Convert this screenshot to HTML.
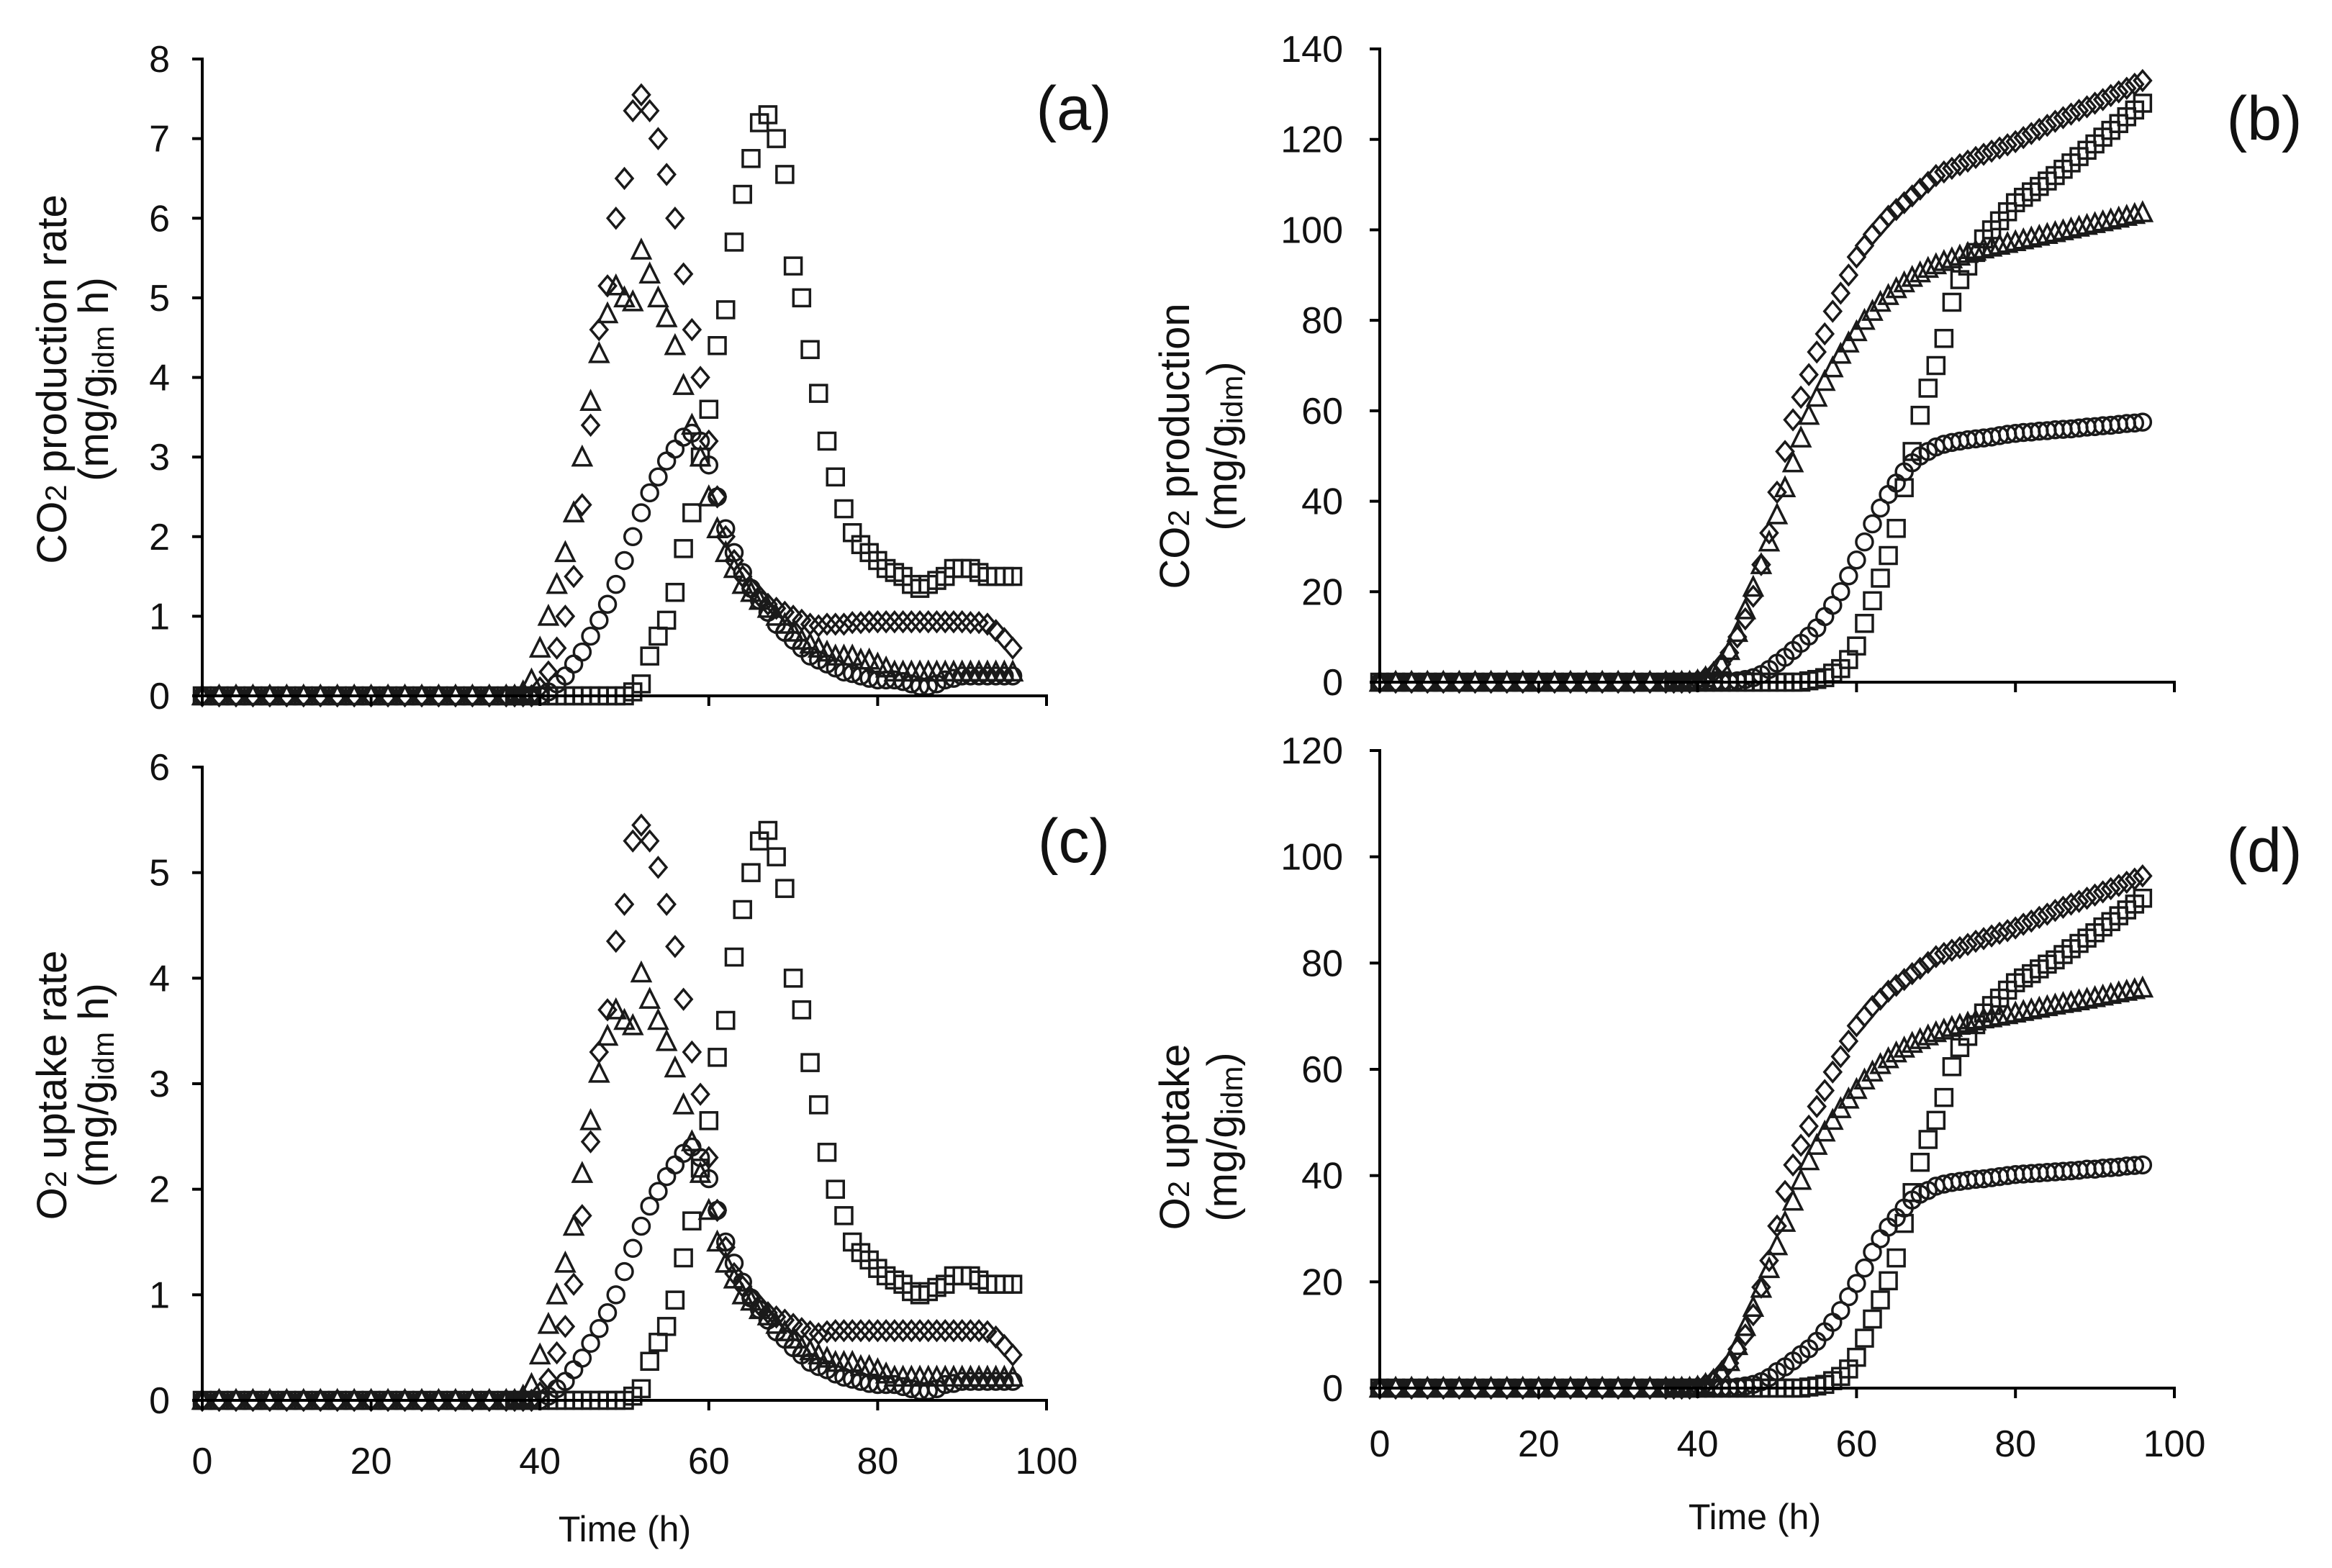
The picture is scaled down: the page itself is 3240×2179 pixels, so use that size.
<!DOCTYPE html>
<html><head><meta charset="utf-8"><style>
html,body{margin:0;padding:0;background:#fff}
svg{display:block}
text{font-family:"Liberation Sans",Arial,sans-serif;fill:#111}
</style></head><body>
<svg id="fig" width="3240" height="2179" viewBox="0 0 3240 2179" xmlns="http://www.w3.org/2000/svg">
<g id="texts">
<text x="1492" y="180" font-size="86" text-anchor="middle">(a)</text>
<text x="3146" y="194" font-size="86" text-anchor="middle">(b)</text>
<text x="1492" y="1198" font-size="86" text-anchor="middle">(c)</text>
<text x="3146" y="1211" font-size="86" text-anchor="middle">(d)</text>

<text transform="translate(92,527) rotate(-90)" font-size="58" text-anchor="middle">CO<tspan font-size="42">2</tspan> production rate</text>
<text transform="translate(150,527) rotate(-90)" font-size="58" text-anchor="middle">(mg/g<tspan font-size="42" dy="8">idm</tspan><tspan dy="-8"> h)</tspan></text>
<text transform="translate(92,1508) rotate(-90)" font-size="58" text-anchor="middle">O<tspan font-size="42">2</tspan> uptake rate</text>
<text transform="translate(150,1508) rotate(-90)" font-size="58" text-anchor="middle">(mg/g<tspan font-size="42" dy="8">idm</tspan><tspan dy="-8"> h)</tspan></text>
<text transform="translate(1652,620) rotate(-90)" font-size="58" text-anchor="middle">CO<tspan font-size="42">2</tspan> production</text>
<text transform="translate(1718,620) rotate(-90)" font-size="58" text-anchor="middle">(mg/g<tspan font-size="42" dy="8">idm</tspan><tspan dy="-8">)</tspan></text>
<text transform="translate(1652,1580) rotate(-90)" font-size="58" text-anchor="middle">O<tspan font-size="42">2</tspan> uptake</text>
<text transform="translate(1718,1580) rotate(-90)" font-size="58" text-anchor="middle">(mg/g<tspan font-size="42" dy="8">idm</tspan><tspan dy="-8">)</tspan></text>

<text x="868" y="2142" font-size="50" text-anchor="middle">Time (h)</text>
<text x="2438" y="2125" font-size="50" text-anchor="middle">Time (h)</text>
</g>
</svg>
<script>
// shared time points (h)
const T = [0,2,4,6,8,10,12,14,16,18,20,22,24,26,28,30,32,34,36,37,38,39,40,41,42,43,44,45,46,47,48,49,50,51,52,53,54,55,56,57,58,59,60,61,62,63,64,65,66,67,68,69,70,71,72,73,74,75,76,77,78,79,80,81,82,83,84,85,86,87,88,89,90,91,92,93,94,95,96];
const Z19 = [0,0,0,0,0,0,0,0,0,0,0,0,0,0,0,0,0,0,0];
const xTicks = [0,20,40,60,80,100];
const yTicksA = [0,1,2,3,4,5,6,7,8];
const yTicksB = [0,20,40,60,80,100,120,140];
const yTicksC = [0,1,2,3,4,5,6];
const yTicksD = [0,20,40,60,80,100,120];

// Panel (a) CO2 production rate, values for t=37..96
const aDiamond = [0,0,0,0.1,0.3,0.6,1.0,1.5,2.4,3.4,4.6,5.15,6.0,6.5,7.35,7.55,7.35,7.0,6.55,6.0,5.3,4.6,4.0,3.2,2.5,2.0,1.7,1.5,1.35,1.25,1.15,1.1,1.05,1.0,0.95,0.9,0.88,0.9,0.9,0.9,0.92,0.92,0.93,0.93,0.93,0.93,0.93,0.93,0.93,0.93,0.93,0.93,0.93,0.93,0.92,0.92,0.9,0.82,0.72,0.6];
const aTriangle = [0,0.05,0.2,0.6,1.0,1.4,1.8,2.3,3.0,3.7,4.3,4.8,5.15,5.0,4.95,5.6,5.3,5.0,4.75,4.4,3.9,3.4,3.0,2.5,2.1,1.8,1.6,1.4,1.3,1.2,1.1,1.0,0.9,0.8,0.7,0.65,0.6,0.55,0.5,0.5,0.5,0.45,0.45,0.4,0.35,0.3,0.3,0.3,0.3,0.3,0.3,0.3,0.3,0.3,0.3,0.3,0.3,0.3,0.3,0.3];
const aCircle = [0,0,0,0,0.05,0.15,0.25,0.4,0.55,0.75,0.95,1.15,1.4,1.7,2.0,2.3,2.55,2.75,2.95,3.1,3.25,3.3,3.2,2.9,2.5,2.1,1.8,1.55,1.35,1.2,1.05,0.9,0.8,0.7,0.6,0.5,0.45,0.4,0.35,0.3,0.28,0.25,0.22,0.2,0.2,0.2,0.18,0.15,0.12,0.12,0.15,0.2,0.22,0.25,0.25,0.25,0.25,0.25,0.25,0.25];
const aSquare = [0,0,0,0,0,0,0,0,0,0,0,0,0,0,0.05,0.15,0.5,0.75,0.95,1.3,1.85,2.3,3.0,3.6,4.4,4.85,5.7,6.3,6.75,7.2,7.3,7.0,6.55,5.4,5.0,4.35,3.8,3.2,2.75,2.35,2.05,1.9,1.8,1.7,1.6,1.55,1.5,1.4,1.35,1.4,1.45,1.5,1.6,1.6,1.6,1.55,1.5,1.5,1.5,1.5];

// Panel (b) cumulative CO2, t=37..96
const bDiamond = [0,0,0,0.3,1,2,4,6.5,10,14,19,26,33,42,51,58,63,68,73,77,82,86,90,94,96.5,99,101,103,104.5,106,107.5,109,110.5,112,112.8,113.6,114.4,115.2,116,116.7,117.4,118.1,118.8,119.5,120.4,121.3,122.2,123.1,124,124.8,125.6,126.4,127.2,128,128.8,129.7,130.5,131.3,132.2,133];
const bTriangle = [0,0,0,0.3,1,2,4,7,11,16,21,26,31,37,43,48.5,54,59,63,66.5,69.5,72.5,75,77.5,80,82,84,85.5,87,88.3,89.5,90.5,91.5,92.3,93,93.6,94.2,94.8,95.3,95.8,96.2,96.6,97,97.4,97.8,98.2,98.6,99,99.4,99.8,100.2,100.6,101,101.4,101.8,102.2,102.6,103,103.4,103.8];
const bCircle = [0,0,0,0,0,0,0,0,0.3,0.6,1,1.7,2.8,4.2,5.5,7,8.6,10.2,12,14.5,17,20,23.5,27,31,35,38.5,41.5,44,46.5,48.5,50,51,52,52.6,53,53.3,53.6,53.8,54,54.2,54.5,54.8,55,55.2,55.3,55.5,55.6,55.8,55.9,56,56.2,56.4,56.5,56.7,56.8,57,57.2,57.3,57.5];
const bSquare = [0,0,0,0,0,0,0,0,0,0,0,0,0,0,0,0,0,0.3,0.6,1,2,3,5,8,13,18,23,28,34,43,51,59,65,70,76,84,89,92,95,98,100,102,104,106,107.2,108.4,109.6,110.8,112,113.4,114.8,116.2,117.6,119,120.5,122,123.5,125,126.5,128];

// Panel (c) O2 uptake rate, t=37..96
const cDiamond = [0,0,0,0.07,0.2,0.45,0.7,1.1,1.75,2.45,3.3,3.7,4.35,4.7,5.3,5.45,5.3,5.05,4.7,4.3,3.8,3.3,2.9,2.3,1.8,1.45,1.2,1.08,0.97,0.9,0.83,0.79,0.76,0.72,0.68,0.65,0.63,0.65,0.66,0.66,0.66,0.66,0.66,0.66,0.66,0.66,0.66,0.66,0.66,0.66,0.66,0.66,0.66,0.66,0.66,0.66,0.65,0.6,0.52,0.43];
const cTriangle = [0,0.04,0.15,0.43,0.72,1.0,1.3,1.65,2.15,2.65,3.1,3.45,3.7,3.6,3.55,4.05,3.8,3.6,3.4,3.15,2.8,2.45,2.15,1.8,1.5,1.3,1.15,1.0,0.94,0.86,0.8,0.72,0.65,0.58,0.5,0.47,0.43,0.4,0.36,0.36,0.36,0.32,0.32,0.29,0.25,0.22,0.22,0.22,0.22,0.22,0.22,0.22,0.22,0.22,0.22,0.22,0.22,0.22,0.22,0.22];
const cCircle = [0,0,0,0,0.04,0.11,0.18,0.29,0.4,0.54,0.68,0.83,1.0,1.22,1.44,1.65,1.84,1.98,2.12,2.23,2.34,2.4,2.3,2.1,1.8,1.5,1.3,1.12,0.97,0.86,0.76,0.65,0.58,0.5,0.43,0.36,0.32,0.29,0.25,0.22,0.2,0.18,0.16,0.15,0.15,0.15,0.13,0.11,0.09,0.09,0.11,0.15,0.16,0.18,0.18,0.18,0.18,0.18,0.18,0.18];
const cSquare = [0,0,0,0,0,0,0,0,0,0,0,0,0,0,0.04,0.11,0.37,0.55,0.7,0.95,1.35,1.7,2.2,2.65,3.25,3.6,4.2,4.65,5.0,5.3,5.4,5.15,4.85,4.0,3.7,3.2,2.8,2.35,2.0,1.75,1.5,1.4,1.33,1.25,1.18,1.14,1.1,1.03,1.0,1.03,1.07,1.1,1.18,1.18,1.18,1.14,1.1,1.1,1.1,1.1];

// Panel (d) cumulative O2, t=37..96
const dDiamond = [0,0,0,0.2,0.7,1.5,2.9,4.7,7.3,10,13.8,19,24,30.5,37,42,45.7,49.3,53,56,59.5,62.4,65.3,68.2,70,71.8,73.2,74.7,75.8,76.9,78,79,80.1,81.2,81.8,82.4,82.9,83.5,84.1,84.6,85.1,85.6,86.1,86.6,87.3,87.9,88.6,89.2,89.9,90.5,91.1,91.6,92.2,92.8,93.4,94,94.6,95.2,95.8,96.4];
const dTriangle = [0,0,0,0.2,0.7,1.5,2.9,5,8,11.6,15.2,18.8,22.5,26.8,31.2,35.2,39.1,42.8,45.7,48.2,50.4,52.6,54.4,56.2,58,59.5,60.9,62,63.1,64,64.9,65.6,66.3,66.9,67.4,67.9,68.3,68.7,69.1,69.5,69.7,70,70.3,70.6,70.9,71.2,71.5,71.8,72.1,72.4,72.6,72.9,73.2,73.5,73.8,74.1,74.4,74.7,75,75.3];
const dCircle = [0,0,0,0,0,0,0,0,0.2,0.4,0.7,1.2,2,3.1,4,5.1,6.3,7.4,8.8,10.6,12.4,14.6,17.2,19.7,22.6,25.6,28.1,30.3,32.1,33.9,35.4,36.5,37.2,38,38.4,38.7,38.9,39.1,39.3,39.4,39.6,39.8,40,40.2,40.3,40.4,40.5,40.6,40.7,40.8,40.9,41,41.2,41.2,41.4,41.5,41.6,41.8,41.9,42];
const dSquare = [0,0,0,0,0,0,0,0,0,0,0,0,0,0,0,0,0,0.2,0.4,0.7,1.4,2.2,3.6,5.8,9.4,13,16.6,20.2,24.5,31,36.8,42.5,46.8,50.4,54.7,60.5,64.1,66.2,68.4,70.6,72,73.4,74.9,76.3,77.2,78,78.9,79.8,80.6,81.6,82.7,83.7,84.7,85.7,86.8,87.8,88.9,90,91.1,92.2];

const NS = 'http://www.w3.org/2000/svg';
const svg = document.getElementById('fig');
function mk(tag, attrs, parent){
  const e = document.createElementNS(NS, tag);
  for (const k in attrs) e.setAttribute(k, attrs[k]);
  (parent||svg).appendChild(e);
  return e;
}

function panel(id, px0, px1, py0, pyTop, yMax, yTicks, showXLabels, xLabY, yLabX, series){
  const g = mk('g', {});
  
  
  const sx = t => px0 + (px1 - px0) * t / 100;
  const sy = v => py0 - (py0 - pyTop) * v / yMax;
  const sw = 3.5, s = 11.5;
  series.forEach(ser => {
    const sg = mk('g', {fill:'none', stroke:'#1a1a1a', 'stroke-width':sw}, g);
    
    
    const vals = Z19.concat(ser.values);
    T.forEach((t, i) => {
      const x = sx(t), y = sy(vals[i]);
      let m;
      if (ser.shape === 'square') m = mk('rect', {x:x-s, y:y-s, width:2*s, height:2*s}, sg);
      else if (ser.shape === 'circle') m = mk('circle', {cx:x, cy:y, r:s}, sg);
      else if (ser.shape === 'diamond') m = mk('polygon', {points:`${x},${y-s-2} ${x+s},${y} ${x},${y+s+2} ${x-s},${y}`}, sg);
      else m = mk('polygon', {points:`${x},${y-s-2} ${x+s+1},${y+s} ${x-s-1},${y+s}`}, sg);
      
      
    });
  });
  const ax = mk('g', {stroke:'#000', 'stroke-width':4, fill:'none'}, g);
  
  
  mk('line', {x1:px0, y1:pyTop-2, x2:px0, y2:py0+2}, ax);
  mk('line', {x1:px0-2, y1:py0, x2:px1+2, y2:py0}, ax);
  yTicks.forEach(v => {
    mk('line', {x1:px0-14, y1:sy(v), x2:px0, y2:sy(v)}, ax);
    const tl = mk('text', {x:yLabX, y:sy(v)+18, 'font-size':52, 'text-anchor':'end'}, g);
    tl.textContent = v;
    
    
  });
  xTicks.forEach(v => {
    mk('line', {x1:sx(v), y1:py0, x2:sx(v), y2:py0+14}, ax);
    if (showXLabels){
      const tl = mk('text', {x:sx(v), y:xLabY, 'font-size':52, 'text-anchor':'middle'}, g);
      tl.textContent = v;
      
      
    }
  });
}

panel('a', 281, 1454, 967, 82, 8, yTicksA, false, 0, 236,
  [{shape:'circle', values:aCircle},{shape:'triangle', values:aTriangle},{shape:'diamond', values:aDiamond},{shape:'square', values:aSquare}]);
panel('b', 1917, 3021, 948, 68, 140, yTicksB, false, 0, 1866,
  [{shape:'circle', values:bCircle},{shape:'triangle', values:bTriangle},{shape:'diamond', values:bDiamond},{shape:'square', values:bSquare}]);
panel('c', 281, 1454, 1946, 1066, 6, yTicksC, true, 2048, 236,
  [{shape:'circle', values:cCircle},{shape:'triangle', values:cTriangle},{shape:'diamond', values:cDiamond},{shape:'square', values:cSquare}]);
panel('d', 1917, 3021, 1929, 1043, 120, yTicksD, true, 2024, 1866,
  [{shape:'circle', values:dCircle},{shape:'triangle', values:dTriangle},{shape:'diamond', values:dDiamond},{shape:'square', values:dSquare}]);
</script>
</body></html>
